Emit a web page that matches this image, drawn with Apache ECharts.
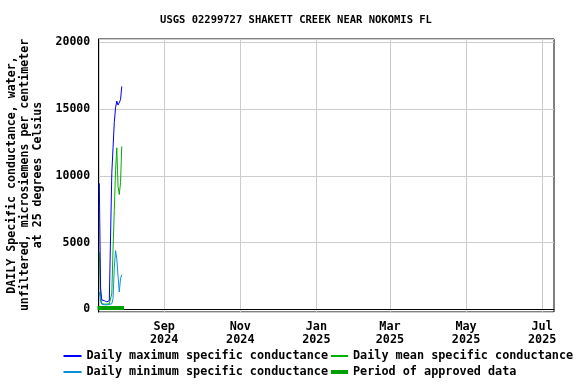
<!DOCTYPE html>
<html>
<head>
<meta charset="utf-8">
<script src="https://cdn.jsdelivr.net/npm/echarts@6/dist/echarts.min.js"></script>
<style>html,body{margin:0;padding:0;background:#fff}#c{width:576px;height:384px}</style>
</head>
<body>
<div id="c"></div>
<script>
var titleText = 'USGS 02299727 SHAKETT CREEK NEAR NOKOMIS FL';
var yAxisTitle = 'DAILY Specific conductance, water,\nunfiltered, microsiemens per centimeter\nat 25 degrees Celsius';
var dates = ['2024-07-11','2024-07-12','2024-07-13','2024-07-14','2024-07-15','2024-07-16','2024-07-17','2024-07-18','2024-07-19','2024-07-20','2024-07-21','2024-07-22','2024-07-23','2024-07-24','2024-07-25','2024-07-26','2024-07-27','2024-07-28','2024-07-29'];
var maxVals  = [9440, 1600, 700, 650, 650, 560, 560, 600, 650, 700, 10200, 12100, 14000, 15100, 15600, 15300, 15200, 15700, 16700];
var meanVals = [4300, 950, 420, 400, 390, 400, 390, 400, 410, 450, 1200, 4500, 7400, 10400, 12100, 9200, 8600, 9500, 12200];
var minVals  = [1300, 600, 380, 350, 340, 350, 340, 350, 360, 380, 420, 800, 3100, 4400, 3800, 2500, 1300, 2300, 2600];
var approvedPeriod = ['2024-07-09T12:00:00', '2024-07-30T18:00:00'];
var xTickDates = ['2024-09-01','2024-11-01','2025-01-01','2025-03-01','2025-05-01','2025-07-01'];
var xTickLabels = ['Sep\n2024','Nov\n2024','Jan\n2025','Mar\n2025','May\n2025','Jul\n2025'];
var xRange = ['2024-07-10T12:00:00','2025-07-10T12:00:00'];
var yRange = [-200, 20250];

function ts(s){ if (s.length === 10) s += 'T00:00:00'; return new Date(s).getTime(); }
var xTickValues = xTickDates.map(ts);
function pairs(vals){ return dates.map(function(d,i){ return [ts(d), vals[i]]; }); }

var FONT = 'DejaVu Sans Mono';
var cMax = '#0000ff', cMin = '#0a8fd8', cMean = '#00b000', cAppr = '#009f00';

var chart = echarts.init(document.getElementById('c'), null, {renderer:'canvas'});
function leg(name, left, top, h, w){
  return { data:[{name:name, icon:'rect'}], left:left, top:top, itemWidth:w, itemHeight:h, padding:0,
    textStyle:{fontFamily:FONT, fontWeight:'bold', fontSize:11.8, color:'#000'}, selectedMode:false };
}
chart.setOption({
  animation:false,
  backgroundColor:'#fff',
  title:{ text:titleText, left:296, top:15, textAlign:'center', padding:0,
    textStyle:{fontFamily:FONT, fontWeight:'bold', fontSize:10.5, color:'#000'} },
  grid:{ left:98.7, right:22, top:39, bottom:72, show:true, borderColor:'#000', borderWidth:1, containLabel:false },
  legend:[
    leg('Daily maximum specific conductance', 63.5, 350, 2, 18),
    leg('Daily minimum specific conductance', 63.5, 366, 2, 18),
    leg('Daily mean specific conductance', 331, 350, 2, 17),
    leg('Period of approved data', 331, 366, 4, 17)
  ],
  xAxis:{ type:'value', min:ts(xRange[0]), max:ts(xRange[1]),
    axisLine:{show:true, lineStyle:{color:'#000', width:1}},
    axisTick:{show:false, customValues:xTickValues},
    splitLine:{show:true, lineStyle:{color:'#cccccc', width:1}},
    axisLabel:{ customValues:xTickValues, margin:8, lineHeight:13,
      fontFamily:FONT, fontWeight:'bold', fontSize:11.8, color:'#000',
      formatter:function(v){ var best=0, bd=Infinity; for (var i=0;i<xTickValues.length;i++){ var d=Math.abs(xTickValues[i]-v); if(d<bd){bd=d;best=i;} } return xTickLabels[best]; } }
  },
  yAxis:{ type:'value', min:yRange[0], max:yRange[1], splitNumber:4,
    axisLine:{show:true, lineStyle:{color:'#000', width:1}},
    axisTick:{show:false},
    splitLine:{show:true, lineStyle:{color:'#cccccc', width:1}},
    axisLabel:{ showMinLabel:false, showMaxLabel:false, margin:8.5,
      fontFamily:FONT, fontWeight:'bold', fontSize:11.5, color:'#000',
      formatter:function(v){ return String(v); } }
  },
  graphic:[{ type:'text', x:25, y:175, rotation:Math.PI/2,
    style:{ text:yAxisTitle, textAlign:'center', textVerticalAlign:'middle',
      font:'bold 11.6px "DejaVu Sans Mono"', lineHeight:13, fill:'#000' } }],
  series:[
    { name:'Period of approved data', type:'line', data:[[ts(approvedPeriod[0]),100],[ts(approvedPeriod[1]),100]],
      showSymbol:false, clip:false, lineStyle:{color:cAppr, width:4}, itemStyle:{color:cAppr}, z:1 },
    { name:'Daily mean specific conductance', type:'line', data:pairs(meanVals), showSymbol:false,
      lineStyle:{color:cMean, width:1}, itemStyle:{color:cMean}, z:2 },
    { name:'Daily minimum specific conductance', type:'line', data:pairs(minVals), showSymbol:false,
      lineStyle:{color:cMin, width:1}, itemStyle:{color:cMin}, z:3 },
    { name:'Daily maximum specific conductance', type:'line', data:pairs(maxVals), showSymbol:false,
      lineStyle:{color:cMax, width:1}, itemStyle:{color:cMax}, z:4 }
  ]
});
</script>
</body>
</html>
